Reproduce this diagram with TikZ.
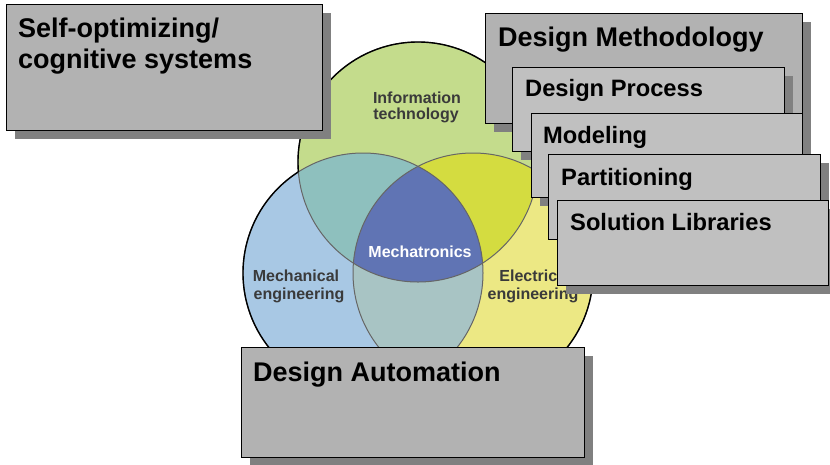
\documentclass[tikz,border=0pt]{standalone}
\usepackage{fontspec}
\setmainfont{Liberation Sans}
\usetikzlibrary{shadows}
\definecolor{itgreen}{HTML}{C4DC8C}
\definecolor{mechblue}{HTML}{A8C8E4}
\definecolor{elecyellow}{HTML}{ECE884}
\definecolor{itmech}{HTML}{8EC0BE}
\definecolor{itelec}{HTML}{D4DC40}
\definecolor{mechelec}{HTML}{A8C4C4}
\definecolor{mechatr}{HTML}{6074B4}
\definecolor{boxgray}{HTML}{B2B2B2}
\definecolor{subgray}{HTML}{C0C0C0}
\definecolor{shadowgray}{HTML}{808080}
\definecolor{venntext}{HTML}{3A3A3A}
\begin{document}
\begin{tikzpicture}[x=1pt,y=-1pt,
  bigbox/.style={draw=black, line width=0.8pt, fill=boxgray, anchor=north west, inner sep=0pt,
    drop shadow={shadow xshift=9pt, shadow yshift=-9pt, fill=shadowgray, opacity=1}},
  subbox/.style={bigbox, fill=subgray},
  bigtext/.style={anchor=base west, inner sep=0pt, font=\bfseries\fontsize{27}{31}\selectfont},
  subtext/.style={anchor=base west, inner sep=0pt, font=\bfseries\fontsize{23.7}{28}\selectfont},
  venn/.style={anchor=base, inner sep=0pt, text=venntext, font=\bfseries\fontsize{16}{18}\selectfont},
  innerline/.style={draw=black!60, line width=1pt},
  outerline/.style={draw=black, line width=1.4pt}]
\useasboundingbox (0,0) rectangle (830,464);
\fill[white] (0,0) rectangle (830,464);
% Venn circles
\coordinate (cT) at (418,162);
\coordinate (cL) at (363,273);
\coordinate (cR) at (473,273);
\fill[itgreen] (cT) circle[radius=120];
\fill[mechblue] (cL) circle[radius=120];
\fill[elecyellow] (cR) circle[radius=120];
\begin{scope}
  \clip (cT) circle[radius=120];
  \fill[itmech] (cL) circle[radius=120];
  \fill[itelec] (cR) circle[radius=120];
\end{scope}
\begin{scope}
  \clip (cL) circle[radius=120];
  \fill[mechelec] (cR) circle[radius=120];
  \clip (cR) circle[radius=120];
  \fill[mechatr] (cT) circle[radius=120];
\end{scope}
\draw[innerline] (cT) circle[radius=120];
\draw[innerline] (cL) circle[radius=120];
\draw[innerline] (cR) circle[radius=120];
\begin{scope}[even odd rule]
  \clip (-50,-50) rectangle (900,520) (cL) circle[radius=120];
  \clip (-50,-50) rectangle (900,520) (cR) circle[radius=120];
  \draw[outerline] (cT) circle[radius=120];
\end{scope}
\begin{scope}[even odd rule]
  \clip (-50,-50) rectangle (900,520) (cT) circle[radius=120];
  \clip (-50,-50) rectangle (900,520) (cR) circle[radius=120];
  \draw[outerline] (cL) circle[radius=120];
\end{scope}
\begin{scope}[even odd rule]
  \clip (-50,-50) rectangle (900,520) (cT) circle[radius=120];
  \clip (-50,-50) rectangle (900,520) (cL) circle[radius=120];
  \draw[outerline] (cR) circle[radius=120];
\end{scope}
% Venn labels
\node[venn] (it1) at (417,103) {Information};
\node[venn] (it2) at (416,119) {technology};
\node[venn] (me1) at (296,281) {Mechanical};
\node[venn] (me2) at (299,299) {engineering};
\node[venn] (ee1) at (535,281) {Electrical};
\node[venn] (ee2) at (533,299) {engineering};
\node[venn, text=white] (mt) at (420,257) {Mechatronics};
% Boxes
\node[bigbox, minimum width=316pt, minimum height=126pt] (self) at (6,4) {};
\node[bigtext] (selfa) at (18,37) {Self-optimizing/};
\node[bigtext] (selfb) at (18,68) {cognitive systems};
\node[bigbox, minimum width=343pt, minimum height=110pt] (da) at (241,347) {};
\node[bigtext] (dat) at (253,381) {Design Automation};
\node[bigbox, minimum width=317pt, minimum height=110pt] (dm) at (485,13) {};
\node[bigtext] (dmt) at (498,46) {Design Methodology};
\node[subbox, minimum width=272pt, minimum height=84pt] (dp) at (512,67) {};
\node[subtext] (dpt) at (525,96) {Design Process};
\node[subbox, minimum width=271pt, minimum height=84pt] (mo) at (531,113) {};
\node[subtext] (mot) at (543,143) {Modeling};
\node[subbox, minimum width=272pt, minimum height=85pt] (pa) at (548,154) {};
\node[subtext] (pat) at (561,185) {Partitioning};
\node[subbox, minimum width=271pt, minimum height=85pt] (sl) at (557,200) {};
\node[subtext] (slt) at (570,230) {Solution Libraries};
\end{tikzpicture}
\end{document}
